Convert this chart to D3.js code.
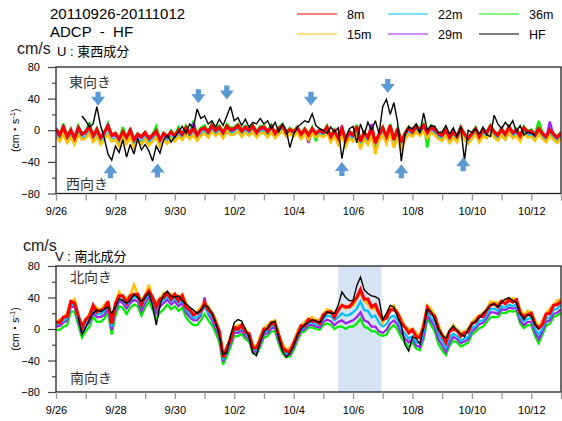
<!DOCTYPE html>
<html><head><meta charset="utf-8">
<script src="https://cdn.jsdelivr.net/npm/d3@7"></script>
<style>
html,body{margin:0;padding:0;background:#fff;}
svg{display:block;font-family:"Liberation Sans",Arial,"Noto Sans CJK JP",sans-serif;}
</style></head>
<body>
<svg id="c" width="562" height="421"></svg>
<script>
// ---------- data ----------
const startDate = new Date(2011, 8, 26);      // 2011-09-26 00:00
const endDate = new Date(2011, 9, 13);        // 2011-10-13 00:00
const stepHours = 3;
const titleLines = ["20110926-20111012", "ADCP  -  HF"];
const seriesNames = ["8m", "15m", "22m", "29m", "36m", "HF"];
const seriesColors = ["#ff0000", "#ffc000", "#00c0ff", "#a020f0", "#00ee00", "#000000"];
const xTickLabelFmt = "%-m/%-d";
const yTicksMajor = [-80, -40, 0, 40, 80];
const yTicksMinor = [-60, -20, 20, 60];
const panelTitles = ["U : 東西成分", "V : 南北成分"];
const dirLabels = [["東向き", "西向き"], ["北向き", "南向き"]];
const unitLabel = "cm/s";

// U (east-west) component, every 3 h from 9/26 00:00
const uRed = [2,-6,4,-8,0,-10,3,-5, -2,4,-7,1,-9,-3,5,-6, -4,-11,-2,-9,0,-12,-5,-8, -3,-10,-6,-1,-12,-4,-8,-2,
  -7,0,-5,3,-4,2,-6,1, 3,-2,6,0,4,-3,5,1, 2,6,-1,4,0,5,-3,3, 4,-2,5,-4,2,6,-3,1, -2,3,-5,1,-6,2,-4,0,
  -3,4,-8,-1,-10,2,-12,-2, -6,5,-14,-3,-9,4,-16,-5, 3,-8,6,-12,2,-15,-4,3, -2,5,0,6,-3,4,1,-4,
  -6,0,-9,-2,-8,3,-5,-10, -4,2,-8,0,-3,5,-2,-6, 1,-5,4,-3,0,-7,3,-2, -1,-6,2,-4,-8,0,-5,-9, -3];
const uYellow = [-8,-14,-5,-16,-9,-18,-6,-12, -10,-4,-15,-8,-18,-11,-6,-14, -12,-20,-9,-17,-8,-22,-13,-18,
  -11,-19,-14,-9,-21,-12,-17,-10, -14,-8,-12,-5,-11,-6,-13,-7, -4,-9,-2,-7,-3,-10,-1,-6, -5,-1,-8,-3,-7,-2,-9,-4,
  -3,-9,-2,-10,-5,-1,-8,-4, -8,-3,-11,-5,-12,-4,-9,-6, -9,-3,-15,-7,-18,-6,-21,-10, -14,-5,-24,-11,-18,-6,-30,-13,
  -6,-17,-3,-22,-8,-26,-12,-5, -8,-2,-7,-1,-10,-3,-6,-11, -13,-6,-16,-9,-15,-4,-12,-17, -11,-5,-15,-7,-10,-3,-9,-13,
  -6,-12,-3,-10,-7,-14,-4,-9, -8,-13,-5,-11,-15,-7,-12,-16, -10];
const uCyan = [-6,-12,-2,-14,-7,-15,-4,-10, -8,-2,-13,-6,-15,-9,-4,-12, -10,-17,-7,-15,-6,-19,-11,-15,
  -9,-16,-12,-7,-18,-10,-14,-8, -12,-6,-10,-3,-9,-4,-11,-5, -2,-7,0,-5,-1,-8,1,-4, -3,1,-6,-1,-5,0,-7,-2,
  -1,-7,0,-8,-3,1,-6,-2, -6,-1,-9,-3,-10,-2,-7,-4, -7,-1,-12,-5,-15,-4,-17,-8, -11,-3,-19,-8,-15,-4,-24,-10,
  -4,-14,-1,-18,-6,-21,-9,-3, -6,0,-5,1,-8,-1,-4,-9, -11,-4,-14,-7,-13,-2,-10,-15, -9,-3,-13,-5,-8,-1,-7,-11,
  -4,-10,-1,-8,-5,-12,-2,-7, -6,-11,-3,-9,-13,-5,-10,-14, -8];
const uPurple = [-2,-8,6,-10,-3,-12,5,-6, -4,7,-9,-1,-11,-5,8,-8, -6,-13,-3,-11,2,-14,-7,-10, -5,-12,-8,-2,-14,-6,-10,-3,
  -9,-1,-7,2,-6,9,-8,0, 1,-5,4,-3,2,-6,3,-2, 0,4,-4,2,-2,3,-6,1, 2,-5,3,-7,0,5,-5,-1, -4,1,-8,-1,-16,0,-6,-2,
  -5,2,-10,-3,-12,6,-14,-4, -8,3,-16,-5,-11,8,-18,-7, 1,-10,4,-14,0,-17,-6,1, -4,3,-2,4,-5,2,-1,-6,
  -8,-2,-11,-4,-10,1,-7,-12, -6,0,-10,-2,-5,3,-4,-8, -1,-7,2,-5,-2,-9,1,-4, -3,-8,0,-6,-10,11,-7,-11, -5];
const uGreen = [0,-7,8,-9,2,-11,6,-4, -1,10,-8,3,-10,-2,9,-7, -3,-12,4,-10,3,-13,-4,-9, -2,-11,-5,5,-13,-3,-9,0,
  -6,4,-4,6,-3,12,-5,3, 6,-1,9,2,6,-2,8,3, 4,8,1,6,2,7,-1,5, 6,-1,7,-3,4,8,-2,3, -1,5,-4,3,-5,4,-14,2,
  -2,6,-7,1,-9,4,-11,-1, -5,7,-13,-2,-8,6,-15,-3, 5,-7,8,-11,4,-14,-3,5, -1,7,2,8,-22,6,3,-4,
  -5,2,-8,0,-7,5,-4,-9, -3,4,-7,2,-2,7,-1,-5, 3,-4,6,-2,2,-6,5,-1, 1,-5,12,-3,-7,2,-4,-8, -2];
const uHF = [null,null,null,null,null,null,null,18, 12,4,8,30,6,-10,-30,-38, -20,-28,-12,-34,-18,-30,-10,-25,
  -18,-26,-39,-20,-29,-12,-6,-15, -8,-2,5,-4,8,3,27,15, 18,8,12,4,14,6,18,30, 12,16,6,14,4,10,8,15,
  8,12,2,10,-2,8,0,-22, -5,4,8,12,10,21,6,2, 0,-4,4,-2,3,-36,-10,2, 5,-16,8,-6,10,0,12,-4,
  30,39,20,35,10,-39,-5,4, 2,8,-4,22,0,6,5,-3, -2,6,-5,3,-8,4,-38,0, -3,2,-5,4,-6,-8,19,8,
  2,10,4,12,-2,6,-6,-2, -4,-6,null,null,null,null,null,null, null];

// V (north-south) component, every 3 h from 9/26 00:00
const vRed = [9,8,15,16,35,33,17,2, 12,16,30,22,24,26,35,7, 32,42,42,33,42,44,44,31, 42,48,40,28,38,40,46,38,
  44,36,42,28,24,18,20,23, 33,24,20,8,-3,-36,-24,-14, 2,0,5,-4,-6,-24,-24,-14, 0,0,8,6,-8,-24,-28,-29,
  -18,-8,4,4,12,10,10,7, 18,21,22,15,24,30,28,28, 34,40,50,38,38,28,31,20, 12,14,24,25,20,8,2,-5,
  -1,-10,-11,3,27,20,16,0, -8,-17,-3,0,-2,-9,-5,-4, 7,9,16,16,24,30,32,28, 35,32,37,34,37,20,16,18,
  20,6,1,6,19,20,30,31, 35];
const vYellow = [8,12,14,20,34,38,16,5, 11,20,29,27,23,31,34,11, 33,47,41,39,43,56,44,37, 42,56,40,34,38,46,46,44,
  44,41,44,34,25,23,21,28, 34,29,21,12,-3,-33,-23,-9, 2,5,5,0,-6,-20,-23,-9, 1,5,9,11,-7,-19,-27,-24,
  -17,-3,5,9,13,15,11,12, 19,25,23,20,23,31,26,30, 30,39,46,36,32,26,26,19, 8,17,25,30,21,13,3,0,
  0,-5,-9,8,30,25,17,5, -7,-11,-2,5,-1,-4,-4,1, 8,14,17,21,25,35,34,33, 36,37,38,39,37,25,17,23,
  21,11,2,11,20,26,31,36, 38];
const vCyan = [5,8,10,14,31,30,13,-1, 7,13,25,19,19,23,30,3, 27,39,37,30,37,41,39,28, 37,45,35,25,33,37,41,35,
  39,33,37,25,19,14,15,20, 28,21,15,5,-7,-39,-28,-16, -2,-2,1,-6,-10,-25,-27,-16, -4,-2,4,4,-12,-25,-31,-30,
  -21,-10,0,2,8,8,6,5, 13,17,16,11,15,20,17,18, 21,26,35,24,23,15,17,8, 3,6,15,17,11,0,-6,-12,
  -9,-17,-18,-4,22,14,9,-6, -15,-24,-11,-6,-9,-15,-12,-10, 1,4,10,11,18,25,26,23, 29,27,31,29,31,15,10,13,
  14,1,-7,1,13,15,24,26, 31];
const vPurple = [3,4,8,11,28,28,10,-5, 3,9,21,15,15,18,26,-1, 23,35,33,26,33,37,35,23, 33,41,31,20,28,33,37,31,
  35,29,33,21,15,11,11,17, 40,19,11,1,-11,-41,-30,-19, -5,-5,-2,-9,-13,-28,-29,-19, -7,-5,1,1,-15,-27,-33,-32,
  -23,-12,-2,0,5,5,3,2, 9,12,10,5,9,11,7,9, 11,15,21,11,9,3,3,-3, -5,-1,7,11,5,-5,-12,-17,
  -13,-21,-23,-9,17,10,3,-13, -21,-29,-17,-10,-13,-18,-16,-13, -3,1,6,8,14,21,21,19, 25,24,27,26,27,11,5,9,
  9,-4,-13,-3,9,11,19,21, 25];
const vGreen = [-1,-1,3,5,22,22,5,-11, -3,3,16,9,9,13,21,-7, 17,29,27,19,27,31,29,17, 27,35,25,13,21,25,31,25,
  29,23,27,15,9,5,5,11, 19,11,5,-5,-17,-45,-35,-23, -9,-9,-6,-13,-16,-31,-32,-23, -11,-9,-3,-3,-19,-31,-36,-35,
  -27,-15,-5,-3,2,2,0,-1, 5,7,5,0,3,3,0,3, 3,7,13,3,1,-3,-3,-7, -9,-7,1,5,-1,-11,-17,-23,
  -17,-25,-27,-13,13,5,-3,-19, -27,-33,-21,-15,-17,-22,-20,-17, -7,-3,1,3,9,15,15,15, 21,20,23,22,23,7,1,5,
  5,-9,-18,-7,4,7,15,17, 21];
const vHF = [null,null,null,null,null,null,15,-7, 2,12,20,24,22,25,28,20, 28,38,36,33,36,44,40,35, 40,46,30,5,30,44,48,42,
  40,42,36,32,28,24,20,24, 30,28,20,8,-8,-32,-30,-8, 8,12,10,0,-10,-30,-34,-16, -4,2,8,10,-12,-28,-36,-30,
  -22,-8,0,6,8,12,10,8, 14,22,20,20,30,47,40,36, 36,55,66,50,45,42,41,38, 12,20,30,28,15,5,-20,-28,
  -10,-12,-19,2,25,22,12,0, -8,-12,-2,4,-2,-6,-10,0, 6,10,14,20,24,30,32,28, 34,38,40,36,33,20,12,18,
  16,6,0,null,null,null,null,null, null];

// event arrows (day offset from 9/26, tip value) and shaded period
const arrowDownDays = [1.43, 4.78, 5.77, 8.59, 11.17];
const arrowDownTips = [31, 34, 39, 31, 47];
const arrowUpDays = [1.82, 3.41, 9.62, 11.64, 13.71];
const arrowUpTips = [-43, -42, -40, -43, -34];
const shadeDays = [9.5, 10.94];

// ---------- drawing ----------
const svg = d3.select("#c");
const L = 56, R = 561;
const x = d3.scaleTime().domain([startDate, endDate]).range([L, R]);
const dayToDate = d => d3.timeHour.offset(startDate, Math.round(d * 24));
const fmt = d3.timeFormat(xTickLabelFmt);
const font = '"Liberation Sans",Arial,"Noto Sans CJK JP",sans-serif';

// titles
svg.append("text").attr("x", 50).attr("y", 19).attr("font-size", 15).text(titleLines[0]);
svg.append("text").attr("x", 50).attr("y", 36.5).attr("font-size", 15).style("white-space", "pre").text(titleLines[1]);

// legend
const legendCols = [297, 388, 479];
const legendRows = [14, 34];
seriesNames.forEach((n, i) => {
  const col = Math.floor(i / 2), row = i % 2;
  const g = svg.append("g");
  g.append("line").attr("x1", legendCols[col]).attr("x2", legendCols[col] + 40)
    .attr("y1", legendRows[row]).attr("y2", legendRows[row])
    .attr("stroke", seriesColors[i]).attr("stroke-width", 1.2);
  g.append("text").attr("x", legendCols[col] + 50).attr("y", legendRows[row] + 4.5)
    .attr("font-size", 12.5).text(n);
});

const panels = [
  {top: 67, bottom: 193.5, data: [uGreen, uPurple, uCyan, uYellow, uRed, uHF], dir: dirLabels[0],
   unitPos: [17, 53.5], titlePos: [57, 56], dirPos: [[69, 87], [66, 188.5]], arrows: true, shade: false},
  {top: 266, bottom: 392, data: [vGreen, vPurple, vCyan, vYellow, vRed, vHF], dir: dirLabels[1],
   unitPos: [23, 250.5], titlePos: [55, 260.5], dirPos: [[70, 282], [70, 383]], arrows: false, shade: true}
];
const drawColors = [seriesColors[4], seriesColors[3], seriesColors[2], seriesColors[1], seriesColors[0], seriesColors[5]];
const drawWidths = [2.3, 2.3, 2.3, 2.6, 3.2, 1.4];

panels.forEach((p, pi) => {
  const y = d3.scaleLinear().domain([-80, 80]).range([p.bottom, p.top]);
  const g = svg.append("g");
  const clipId = "clip" + pi;
  svg.append("clipPath").attr("id", clipId).append("rect")
    .attr("x", L).attr("y", p.top).attr("width", R - L).attr("height", p.bottom - p.top);

  if (p.shade) {
    g.append("rect").attr("x", x(dayToDate(shadeDays[0]))).attr("y", p.top)
      .attr("width", x(dayToDate(shadeDays[1])) - x(dayToDate(shadeDays[0])))
      .attr("height", p.bottom - p.top).attr("fill", "#d5e3f2");
  }

  const lineGen = d3.line().defined(d => d.v !== null)
    .x(d => x(d.t)).y(d => y(d.v));
  const lg = g.append("g").attr("clip-path", `url(#${clipId})`);
  p.data.forEach((arr, si) => {
    const pts = arr.map((v, i) => ({t: d3.timeHour.offset(startDate, i * stepHours), v}));
    lg.append("path").datum(pts).attr("d", lineGen).attr("fill", "none")
      .attr("stroke", drawColors[si]).attr("stroke-width", drawWidths[si])
      .attr("stroke-linejoin", "miter").attr("stroke-miterlimit", 3);
  });

  // frame
  g.append("rect").attr("x", L).attr("y", p.top).attr("width", R - L).attr("height", p.bottom - p.top)
    .attr("fill", "none").attr("stroke", "#222").attr("stroke-width", 1.3);

  // x axis ticks
  const days = d3.timeDay.range(startDate, d3.timeDay.offset(endDate, 1));
  const xa = d3.axisBottom(x).tickValues(days).tickSize(7).tickPadding(7)
    .tickFormat((d, i) => (i % 2 === 0 && i < 17) ? fmt(d) : "");
  const xg = g.append("g").attr("transform", `translate(0,${p.bottom})`).call(xa);
  xg.select(".domain").remove();
  xg.selectAll(".tick line").attr("stroke", "#999").attr("stroke-width", 1.3);
  xg.selectAll(".tick text").attr("font-size", 11).attr("font-family", font).attr("fill", "#000");

  // y axis major and minor
  const ya = d3.axisLeft(y).tickValues(yTicksMajor).tickSize(8).tickPadding(8);
  const yg = g.append("g").attr("transform", `translate(${L},0)`).call(ya);
  yg.select(".domain").remove();
  yg.selectAll(".tick line").attr("stroke", "#444").attr("stroke-width", 1.2);
  yg.selectAll(".tick text").attr("font-size", 11).attr("font-family", font).attr("fill", "#000");
  const ym = d3.axisLeft(y).tickValues(yTicksMinor).tickSize(4).tickFormat("");
  const ymg = g.append("g").attr("transform", `translate(${L},0)`).call(ym);
  ymg.select(".domain").remove();
  ymg.selectAll(".tick line").attr("stroke", "#444").attr("stroke-width", 1.2);

  // y label
  const yl = g.append("text").attr("transform", `translate(19,${(p.top + p.bottom) / 2}) rotate(-90)`)
    .attr("text-anchor", "middle").attr("font-size", 10.5);
  yl.append("tspan").text("(cm・s");
  yl.append("tspan").attr("dy", -4).attr("font-size", 7.5).text("-1");
  yl.append("tspan").attr("dy", 4).text(")");

  // unit and panel title
  g.append("text").attr("x", p.unitPos[0]).attr("y", p.unitPos[1]).attr("font-size", 16).attr("fill", "#222").text(unitLabel);
  g.append("text").attr("x", p.titlePos[0]).attr("y", p.titlePos[1]).attr("font-size", 13).text(panelTitles[pi]);

  // direction labels
  p.dir.forEach((t, k) => {
    g.append("text").attr("x", p.dirPos[k][0]).attr("y", p.dirPos[k][1]).attr("font-size", 14)
      .attr("fill", "#333").text(t);
  });

  // arrows
  if (p.arrows) {
    const sw = 2.6, hw = 7, sl = 5, hl = 9;
    const down = (cx, ty) => `M${cx - sw},${ty - hl - sl}L${cx + sw},${ty - hl - sl}L${cx + sw},${ty - hl}L${cx + hw},${ty - hl}L${cx},${ty}L${cx - hw},${ty - hl}L${cx - sw},${ty - hl}Z`;
    const up = (cx, ty) => `M${cx - sw},${ty + hl + sl}L${cx + sw},${ty + hl + sl}L${cx + sw},${ty + hl}L${cx + hw},${ty + hl}L${cx},${ty}L${cx - hw},${ty + hl}L${cx - sw},${ty + hl}Z`;
    arrowDownDays.forEach((d, i) => {
      g.append("path").attr("d", down(x(dayToDate(d)), y(arrowDownTips[i]))).attr("fill", "#5b9bd5");
    });
    arrowUpDays.forEach((d, i) => {
      g.append("path").attr("d", up(x(dayToDate(d)), y(arrowUpTips[i]))).attr("fill", "#5b9bd5");
    });
  }
});
</script>
</body></html>
